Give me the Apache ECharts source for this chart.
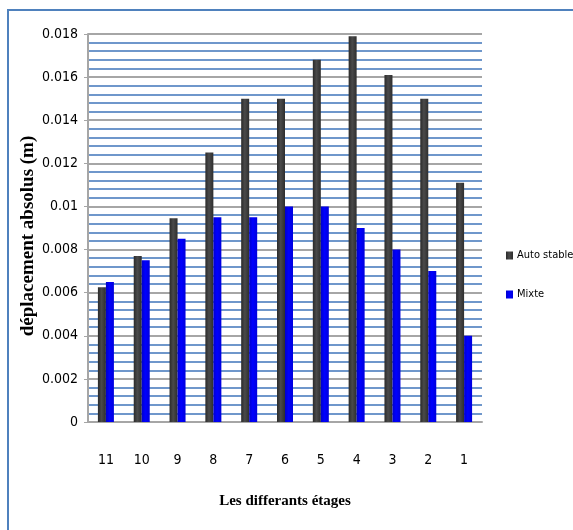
<!DOCTYPE html>
<html><head><meta charset="utf-8">
<script src="https://cdn.jsdelivr.net/npm/echarts@6/dist/echarts.min.js"></script>
<style>html,body{margin:0;padding:0;background:#fff}#c{width:573px;height:530px;position:relative}
#frame{position:absolute;left:7px;top:9px;width:600px;height:600px;border:2px solid #4F81BD;box-sizing:border-box;pointer-events:none}</style>
</head><body><div id="c"></div><div id="frame"></div>
<script>
const categories = ['11','10','9','8','7','6','5','4','3','2','1'];
const autoStable = [0.00625, 0.0077, 0.00945, 0.0125, 0.015, 0.015, 0.0168, 0.0179, 0.0161, 0.015, 0.0111];
const mixte = [0.0065, 0.0075, 0.0085, 0.0095, 0.0095, 0.0100, 0.0100, 0.0090, 0.0080, 0.0070, 0.0040];
const yTicks = {min: 0, max: 0.018, interval: 0.002};
const seriesNames = ['Auto stable', 'Mixte'];

const chart = echarts.init(document.getElementById('c'), null, {renderer: 'canvas'});
const narrow = "'DejaVu Sans Condensed', 'Liberation Sans Narrow', Roboto, sans-serif";
const serif = "'Liberation Serif', 'DejaVu Serif', serif";
chart.setOption({
  animation: false,
  grid: {left: 88, right: 91, top: 34, bottom: 108, containLabel: false},
  legend: {
    orient: 'vertical', left: 501, top: 245, itemGap: 28,
    itemWidth: 7, itemHeight: 8, icon: 'rect',
    textStyle: {fontFamily: narrow, fontSize: 11, color: '#000', padding: [0,0,0,-1]},
    data: seriesNames
  },
  xAxis: {
    type: 'category', data: categories,
    name: 'Les differants étages', nameLocation: 'middle', nameGap: 72,
    nameTextStyle: {fontFamily: serif, fontWeight: 'bold', fontSize: 15, color: '#000'},
    axisLine: {lineStyle: {color: '#A6A6A6', width: 2}},
    axisTick: {show: false},
    axisLabel: {margin: 31, fontFamily: narrow, fontSize: 14, color: '#000'}
  },
  yAxis: {
    type: 'value', min: yTicks.min, max: yTicks.max, interval: yTicks.interval,
    name: 'déplacement absolus (m)', nameLocation: 'middle', nameGap: 50, nameRotate: 90,
    nameMoveOverlap: false,
    nameTextStyle: {fontFamily: serif, fontWeight: 'bold', fontSize: 19, color: '#000', padding: [0,16,0,0]},
    axisLine: {show: true, lineStyle: {color: '#A6A6A6', width: 2}},
    axisTick: {show: true, length: 4, lineStyle: {color: '#A6A6A6'}},
    axisLabel: {margin: 10, fontFamily: narrow, fontSize: 14, color: '#000',
      formatter: v => v === 0 ? '0' : String(+v.toFixed(3))},
    splitLine: {show: true, lineStyle: {color: '#A6A6A6', width: 2}},
    minorTick: {show: false, splitNumber: 5},
    minorSplitLine: {show: true, lineStyle: {color: '#6F97CB', width: 2}}
  },
  series: [
    {name: seriesNames[0], type: 'bar', data: autoStable, barWidth: 8, barGap: '0%',
     itemStyle: {color: new echarts.graphic.LinearGradient(0,0,1,0,[
       {offset:0,color:'#2a2a2a'},{offset:0.45,color:'#4a4a4a'},{offset:1,color:'#2e2e2e'}])}},
    {name: seriesNames[1], type: 'bar', data: mixte, barWidth: 8,
     itemStyle: {color: new echarts.graphic.LinearGradient(0,0,1,0,[
       {offset:0,color:'#0000cc'},{offset:0.45,color:'#0000ff'},{offset:1,color:'#0000dd'}])}}
  ],
  color: ['#404040', '#0000FF']
});
</script></body></html>
